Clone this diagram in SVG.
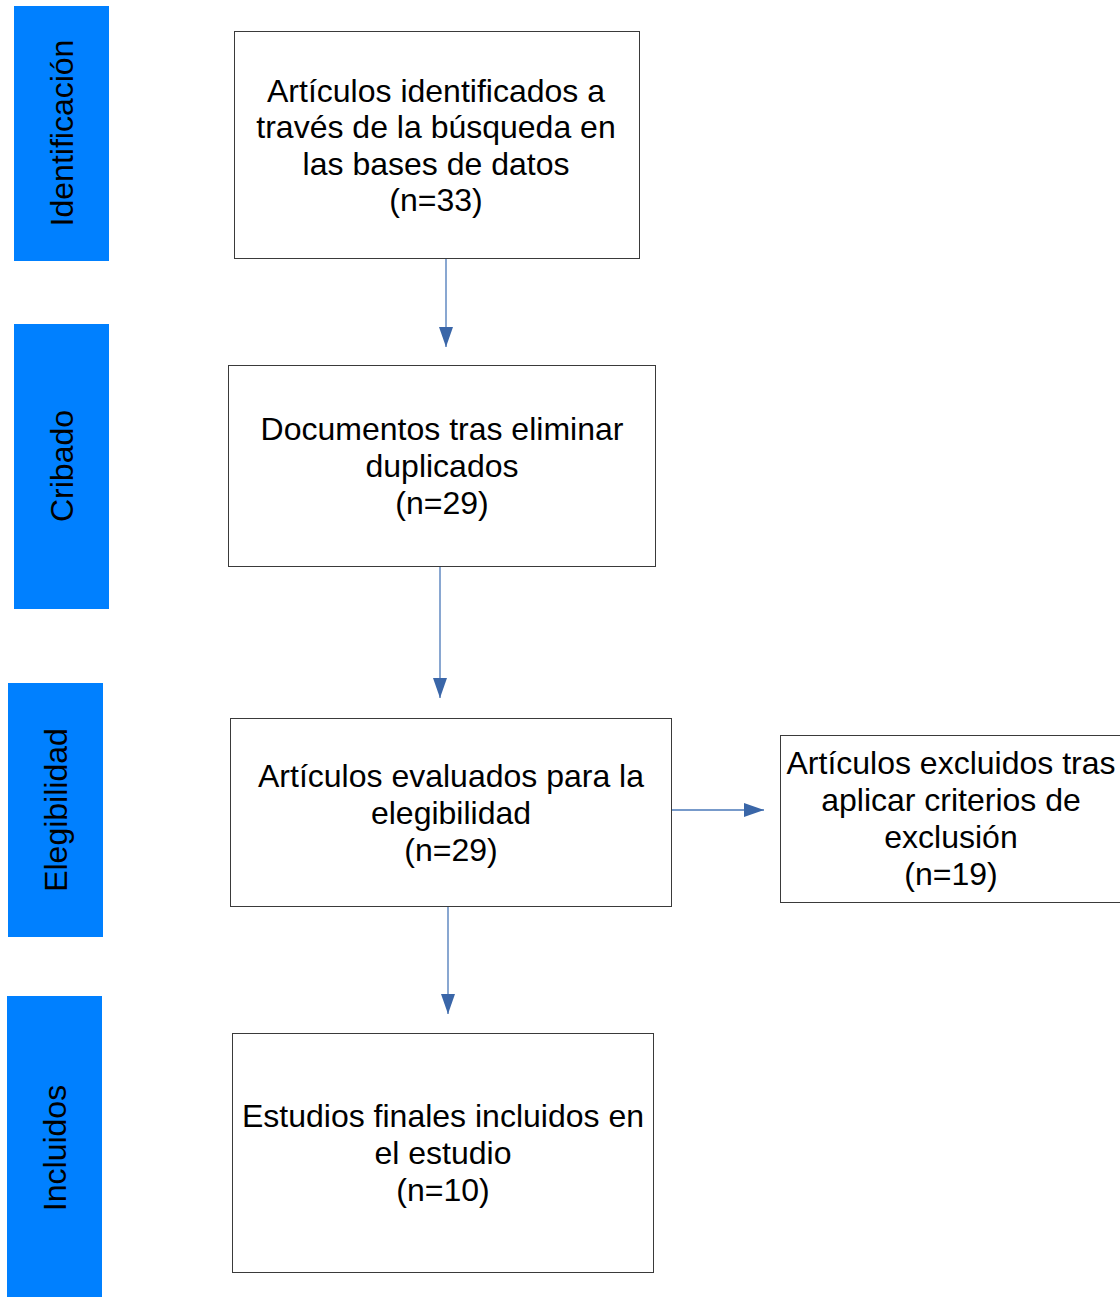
<svg xmlns="http://www.w3.org/2000/svg" width="1120" height="1297" viewBox="0 0 1120 1297">
<style>
.bar{fill:#0080ff}
.box{fill:#fff;stroke:#3a3a3a;stroke-width:1}
text{font-family:"Liberation Sans",Arial,sans-serif;font-size:32px;fill:#000;text-anchor:middle}
.conn{stroke:#4a78b8;stroke-width:1.3;fill:none}
</style>
<defs>
<marker id="ah" markerUnits="userSpaceOnUse" markerWidth="20" markerHeight="16" refX="20" refY="8" orient="auto">
<path d="M0,1 L20,8 L0,15 Z" fill="#3a66a8"/>
</marker>
</defs>
<rect width="1120" height="1297" fill="#fff"/>
<g id="phase-identificacion"><rect class="bar" x="14" y="6" width="95" height="255"/><text transform="translate(73,133) rotate(-90)">Identificación</text></g>
<g id="phase-cribado"><rect class="bar" x="14" y="324" width="95" height="285"/><text transform="translate(73,466) rotate(-90)">Cribado</text></g>
<g id="phase-elegibilidad"><rect class="bar" x="8" y="683" width="95" height="254"/><text transform="translate(67,810) rotate(-90)">Elegibilidad</text></g>
<g id="phase-incluidos"><rect class="bar" x="7" y="996" width="95" height="301"/><text transform="translate(66,1148) rotate(-90)">Incluidos</text></g>
<g id="n-identified"><rect class="box" x="234.5" y="31.5" width="405" height="227"/>
<text x="436" y="102">Artículos identificados a</text><text x="436" y="138">través de la búsqueda en</text><text x="436" y="175">las bases de datos</text><text x="436" y="211">(n=33)</text></g>
<g id="n-dedup"><rect class="box" x="228.5" y="365.5" width="427" height="201"/>
<text x="442" y="440">Documentos tras eliminar</text><text x="442" y="477">duplicados</text><text x="442" y="514">(n=29)</text></g>
<g id="n-eligible"><rect class="box" x="230.5" y="718.5" width="441" height="188"/>
<text x="451" y="787">Artículos evaluados para la</text><text x="451" y="824">elegibilidad</text><text x="451" y="861">(n=29)</text></g>
<g id="n-excluded"><rect class="box" x="780.5" y="735.5" width="342" height="167"/>
<text x="951" y="774">Artículos excluidos tras</text><text x="951" y="811">aplicar criterios de</text><text x="951" y="848">exclusión</text><text x="951" y="885">(n=19)</text></g>
<g id="n-included"><rect class="box" x="232.5" y="1033.5" width="421" height="239"/>
<text x="443" y="1127">Estudios finales incluidos en</text><text x="443" y="1164">el estudio</text><text x="443" y="1201">(n=10)</text></g>
<g id="connectors">
<line class="conn" x1="446" y1="259" x2="446" y2="347" marker-end="url(#ah)"/>
<line class="conn" x1="440" y1="567" x2="440" y2="698" marker-end="url(#ah)"/>
<line class="conn" x1="448" y1="907" x2="448" y2="1014" marker-end="url(#ah)"/>
<line class="conn" x1="672" y1="810" x2="764" y2="810" marker-end="url(#ah)"/>
</g>
</svg>
